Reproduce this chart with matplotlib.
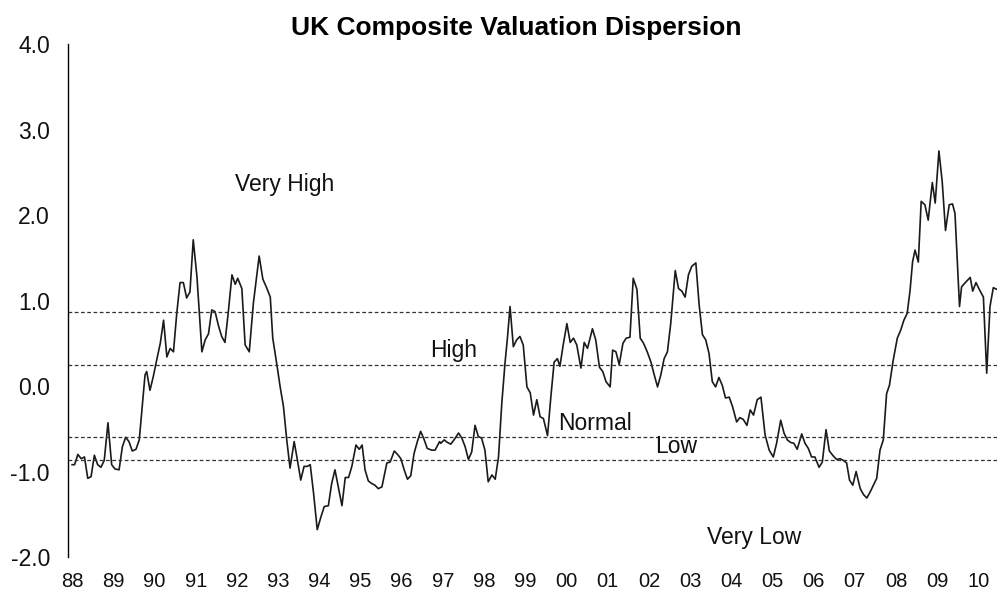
import numpy as np
import matplotlib.pyplot as plt
from matplotlib.ticker import FormatStrFormatter

plt.rcParams['font.family'] = ['Liberation Sans', 'DejaVu Sans']
plt.rcParams['axes.unicode_minus'] = False

# dates as fractional years
years = [
    1988.00, 1988.06, 1988.14, 1988.22, 1988.30, 1988.38, 1988.46, 1988.54, 1988.62, 1988.70,
    1988.78, 1988.87, 1988.96, 1989.04, 1989.14, 1989.22, 1989.30, 1989.38, 1989.46, 1989.55,
    1989.63, 1989.71, 1989.77, 1989.81, 1989.89, 1989.97, 1990.06, 1990.14, 1990.22, 1990.30,
    1990.38, 1990.46, 1990.54, 1990.62, 1990.70, 1990.78, 1990.86, 1990.94, 1991.03, 1991.15,
    1991.23, 1991.31, 1991.39, 1991.47, 1991.55, 1991.63, 1991.71, 1991.79, 1991.88, 1991.96,
    1992.02, 1992.12, 1992.20, 1992.30, 1992.40, 1992.54, 1992.63, 1992.73, 1992.81, 1992.87,
    1992.97, 1993.05, 1993.13, 1993.21, 1993.29, 1993.39, 1993.47, 1993.55, 1993.63, 1993.71,
    1993.78, 1993.86, 1993.95, 1994.04, 1994.12, 1994.22, 1994.30, 1994.38, 1994.46, 1994.55,
    1994.63, 1994.71, 1994.79, 1994.89, 1994.97, 1995.04, 1995.11, 1995.19, 1995.27, 1995.35,
    1995.43, 1995.52, 1995.64, 1995.72, 1995.82, 1995.90, 1995.98, 1996.06, 1996.14, 1996.22,
    1996.30, 1996.38, 1996.46, 1996.54, 1996.62, 1996.73, 1996.81, 1996.92, 1996.95, 1997.03,
    1997.11, 1997.19, 1997.27, 1997.38, 1997.46, 1997.54, 1997.62, 1997.70, 1997.78, 1997.86,
    1997.94, 1998.02, 1998.10, 1998.19, 1998.27, 1998.35, 1998.43, 1998.51, 1998.57, 1998.63,
    1998.71, 1998.79, 1998.87, 1998.95, 1999.04, 1999.12, 1999.20, 1999.28, 1999.36, 1999.44,
    1999.54, 1999.62, 1999.70, 1999.78, 1999.84, 1999.92, 2000.01, 2000.09, 2000.17, 2000.25,
    2000.35, 2000.43, 2000.51, 2000.63, 2000.71, 2000.80, 2000.88, 2000.96, 2001.06, 2001.12,
    2001.20, 2001.28, 2001.37, 2001.45, 2001.54, 2001.62, 2001.71, 2001.79, 2001.87, 2001.96,
    2002.05, 2002.13, 2002.21, 2002.29, 2002.37, 2002.45, 2002.53, 2002.64, 2002.72, 2002.80,
    2002.88, 2002.96, 2003.04, 2003.14, 2003.22, 2003.30, 2003.38, 2003.46, 2003.54, 2003.62,
    2003.70, 2003.78, 2003.86, 2003.95, 2004.03, 2004.13, 2004.21, 2004.29, 2004.38, 2004.46,
    2004.54, 2004.63, 2004.72, 2004.82, 2004.92, 2005.02, 2005.10, 2005.20, 2005.28, 2005.36,
    2005.44, 2005.52, 2005.60, 2005.71, 2005.79, 2005.87, 2005.95, 2006.03, 2006.13, 2006.21,
    2006.30, 2006.38, 2006.48, 2006.56, 2006.64, 2006.72, 2006.80, 2006.87, 2006.95, 2007.03,
    2007.13, 2007.21, 2007.29, 2007.37, 2007.45, 2007.53, 2007.61, 2007.69, 2007.77, 2007.84,
    2007.93, 2008.03, 2008.11, 2008.19, 2008.27, 2008.34, 2008.40, 2008.46, 2008.54, 2008.61,
    2008.70, 2008.78, 2008.88, 2008.95, 2009.04, 2009.12, 2009.20, 2009.29, 2009.37, 2009.43,
    2009.54, 2009.59, 2009.70, 2009.80, 2009.86, 2009.94, 2010.02, 2010.12, 2010.20, 2010.28,
    2010.36, 2010.45,
]
dispersion = [
    -0.92, -0.92, -0.80, -0.85, -0.83, -1.08, -1.06, -0.81, -0.92, -0.95,
    -0.87, -0.43, -0.92, -0.97, -0.98, -0.71, -0.60, -0.65, -0.76, -0.74,
    -0.63, -0.20, 0.13, 0.17, -0.05, 0.11, 0.32, 0.50, 0.77, 0.34,
    0.44, 0.40, 0.85, 1.21, 1.21, 1.03, 1.10, 1.71, 1.28, 0.40,
    0.54, 0.61, 0.89, 0.87, 0.71, 0.58, 0.51, 0.86, 1.30, 1.19,
    1.26, 1.14, 0.48, 0.40, 0.97, 1.52, 1.25, 1.14, 1.04, 0.56,
    0.25, -0.01, -0.24, -0.63, -0.96, -0.65, -0.87, -1.10, -0.94, -0.94,
    -0.92, -1.25, -1.68, -1.53, -1.41, -1.40, -1.14, -0.98, -1.18, -1.40,
    -1.07, -1.07, -0.94, -0.69, -0.74, -0.69, -0.98, -1.11, -1.14, -1.16,
    -1.20, -1.18, -0.90, -0.89, -0.76, -0.80, -0.85, -0.98, -1.09, -1.05,
    -0.79, -0.65, -0.53, -0.62, -0.73, -0.75, -0.75, -0.65, -0.67, -0.63,
    -0.66, -0.68, -0.63, -0.55, -0.61, -0.71, -0.86, -0.77, -0.46, -0.59,
    -0.61, -0.75, -1.12, -1.04, -1.09, -0.83, -0.20, 0.28, 0.58, 0.93,
    0.46, 0.54, 0.58, 0.48, -0.01, -0.08, -0.34, -0.16, -0.36, -0.38,
    -0.58, -0.13, 0.28, 0.32, 0.23, 0.48, 0.73, 0.51, 0.56, 0.48,
    0.21, 0.51, 0.44, 0.67, 0.54, 0.22, 0.17, 0.05, -0.01, 0.42,
    0.40, 0.25, 0.50, 0.56, 0.57, 1.26, 1.13, 0.56, 0.50, 0.40,
    0.28, 0.13, -0.01, 0.13, 0.32, 0.40, 0.73, 1.35, 1.14, 1.11,
    1.04, 1.30, 1.40, 1.44, 0.95, 0.60, 0.54, 0.38, 0.05, -0.01,
    0.10, 0.01, -0.14, -0.13, -0.24, -0.42, -0.37, -0.39, -0.46, -0.28,
    -0.34, -0.16, -0.13, -0.57, -0.75, -0.83, -0.67, -0.40, -0.55, -0.63,
    -0.66, -0.67, -0.74, -0.56, -0.67, -0.73, -0.83, -0.83, -0.95, -0.89,
    -0.51, -0.76, -0.82, -0.86, -0.85, -0.87, -0.90, -1.10, -1.16, -1.00,
    -1.20, -1.27, -1.31, -1.24, -1.16, -1.08, -0.75, -0.63, -0.09, 0.01,
    0.30, 0.56, 0.65, 0.77, 0.85, 1.12, 1.45, 1.59, 1.45, 2.16,
    2.12, 1.94, 2.38, 2.14, 2.75, 2.39, 1.82, 2.12, 2.13, 2.02,
    0.93, 1.16, 1.22, 1.27, 1.11, 1.21, 1.13, 1.04, 0.15, 0.93,
    1.15, 1.13,
]

band_levels = [0.86, 0.25, -0.60, -0.87]
band_labels = ['Very High', 'High', 'Normal', 'Low', 'Very Low']
band_label_pos = [(1993.17, 2.36), (1997.25, 0.42), (2000.69, -0.44),
                  (2002.66, -0.71), (2004.55, -1.77)]
year_ticks = list(range(1988, 2011))
year_labels = [f'{y % 100:02d}' for y in year_ticks]

fig = plt.figure(figsize=(9.97, 6.04), dpi=100)
ax = fig.add_axes([0.0682, 0.0778, 0.9318, 0.8493])

ax.plot(years, dispersion, color='#1a1a1a', linewidth=1.2)
for lvl in band_levels:
    ax.axhline(lvl, color='#333333', linestyle=(0, (3, 2)), linewidth=0.9)

for txt, (x, y) in zip(band_labels, band_label_pos):
    ax.text(x, y, txt, fontsize=16.5, ha='center', va='center', color='#111111')

ax.set_xlim(1987.90, 2010.45)
ax.set_ylim(-2, 4)
ax.set_yticks(np.arange(-2, 4.1, 1))
ax.yaxis.set_major_formatter(FormatStrFormatter('%.1f'))
ax.set_xticks(year_ticks)
ax.set_xticklabels(year_labels)
ax.tick_params(axis='both', length=0, colors='#111111')
ax.tick_params(axis='y', pad=13, labelsize=16.5)
ax.tick_params(axis='x', pad=11, labelsize=14.5)

for side in ['top', 'right', 'bottom']:
    ax.spines[side].set_visible(False)
ax.spines['left'].set_linewidth(1.0)

fig.text(0.518, 0.954, 'UK Composite Valuation Dispersion', ha='center', va='center',
         fontsize=19, fontweight='bold')

fig.savefig('out.png', dpi=100)
